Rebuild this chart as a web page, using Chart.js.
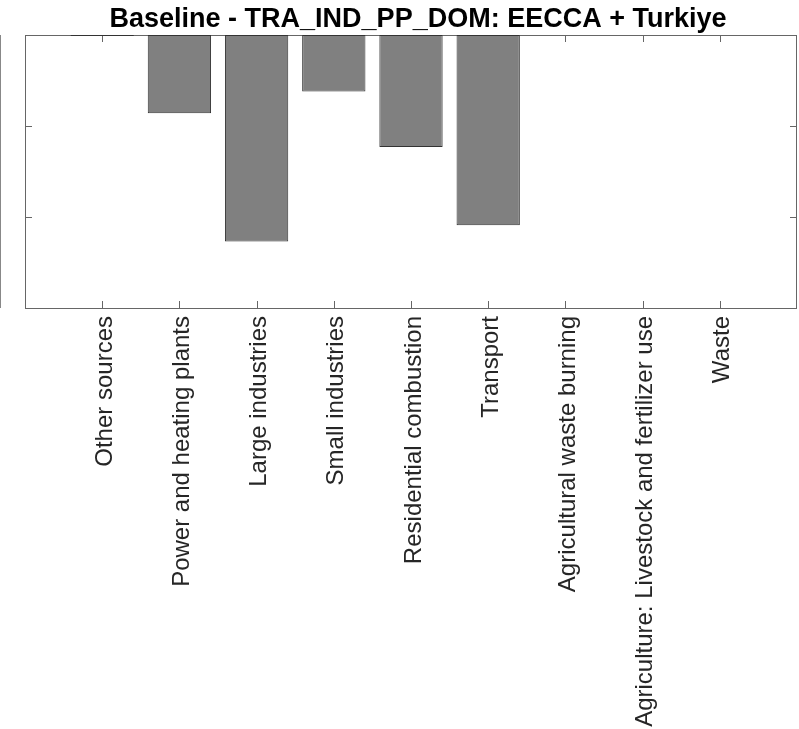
<!DOCTYPE html>
<html>
<head>
<meta charset="utf-8">
<script src="https://cdn.jsdelivr.net/npm/chart.js@4"></script>
<style>
  html, body { margin: 0; padding: 0; background: #fff; }
  #wrap { width: 799px; height: 729px; }
</style>
</head>
<body>
<div id="wrap"><canvas id="myChart" width="799" height="729"></canvas></div>
<script>
const titleText = "Baseline - TRA_IND_PP_DOM: EECCA + Turkiye";
const categories = [
    "Other sources",
    "Power and heating plants",
    "Large industries",
    "Small industries",
    "Residential combustion",
    "Transport",
    "Agricultural waste burning",
    "Agriculture: Livestock and fertilizer use",
    "Waste"
];
const values = [-0.012, -0.86, -2.27, -0.62, -1.23, -2.09, 0, 0, 0];
const yTicks = [-3, -2, -1, 0];

// MATLAB style box + inward ticks, drawn under the bars
const framePlugin = {
    id: 'frame',
    beforeDatasetsDraw(chart) {
        const ctx = chart.ctx;
        const a = chart.chartArea;
        const xs = chart.scales.x;
        const ys = chart.scales.y;
        const len = 7;
        ctx.save();
        ctx.strokeStyle = '#666';
        ctx.lineWidth = 1;
        ctx.strokeRect(a.left + 0.5, a.top + 0.5, a.right - a.left - 1, a.bottom - a.top);
        ctx.beginPath();
        xs.ticks.forEach(t => {
            const x = Math.round(xs.getPixelForValue(t.value)) + 0.5;
            ctx.moveTo(x, a.bottom); ctx.lineTo(x, a.bottom - len);
            ctx.moveTo(x, a.top); ctx.lineTo(x, a.top + len);
        });
        ys.ticks.forEach(t => {
            const y = Math.round(ys.getPixelForValue(t.value)) + 0.5;
            ctx.moveTo(a.left, y); ctx.lineTo(a.left + len, y);
            ctx.moveTo(a.right, y); ctx.lineTo(a.right - len, y);
        });
        ctx.stroke();
        // edge of the neighbouring panel on the left
        ctx.strokeStyle = '#888';
        ctx.beginPath();
        ctx.moveTo(0.5, a.top); ctx.lineTo(0.5, a.bottom);
        ctx.stroke();
        ctx.restore();
    },
    afterDraw(chart) {
        const ctx = chart.ctx;
        ctx.save();
        ctx.fillStyle = '#000';
        ctx.font = 'bold 27px "Liberation Sans", Arial, sans-serif';
        ctx.textAlign = 'center';
        ctx.textBaseline = 'alphabetic';
        ctx.fillText(titleText, 418, 27);
        ctx.restore();
    }
};

const ctx = document.getElementById('myChart').getContext('2d');
new Chart(ctx, {
    type: 'bar',
    data: {
        datasets: [{
            data: values.map((v, i) => ({ x: i + 1, y: v })),
            backgroundColor: '#808080',
            borderColor: '#333',
            borderWidth: 1,
            borderSkipped: false,
            barPercentage: 0.82,
            categoryPercentage: 1
        }]
    },
    plugins: [framePlugin],
    options: {
        responsive: false,
        animation: false,
        layout: { padding: { top: 35, right: 2, left: 0, bottom: 0 } },
        plugins: {
            legend: { display: false },
            tooltip: { enabled: false }
        },
        scales: {
            x: {
                type: 'linear',
                offset: false,
                min: 0,
                max: 10,
                grid: { display: false, drawTicks: false },
                border: { display: false },
                afterBuildTicks(scale) {
                    scale.ticks = categories.map((c, i) => ({ value: i + 1 }));
                },
                afterFit(scale) { scale.height = 421; },
                ticks: {
                    autoSkip: false,
                    maxRotation: 90,
                    minRotation: 90,
                    padding: 8,
                    labelOffset: 3,
                    color: '#262626',
                    font: { family: '"Liberation Sans", Arial, sans-serif', size: 24 },
                    callback: (v) => categories[v - 1] || ''
                }
            },
            y: {
                min: -3,
                max: 0,
                afterBuildTicks(scale) {
                    scale.ticks = yTicks.map(v => ({ value: v }));
                },
                afterFit(scale) { scale.width = 25; },
                grid: { display: false, drawTicks: false },
                border: { display: false },
                ticks: { display: false }
            }
        }
    }
});
</script>
</body>
</html>
